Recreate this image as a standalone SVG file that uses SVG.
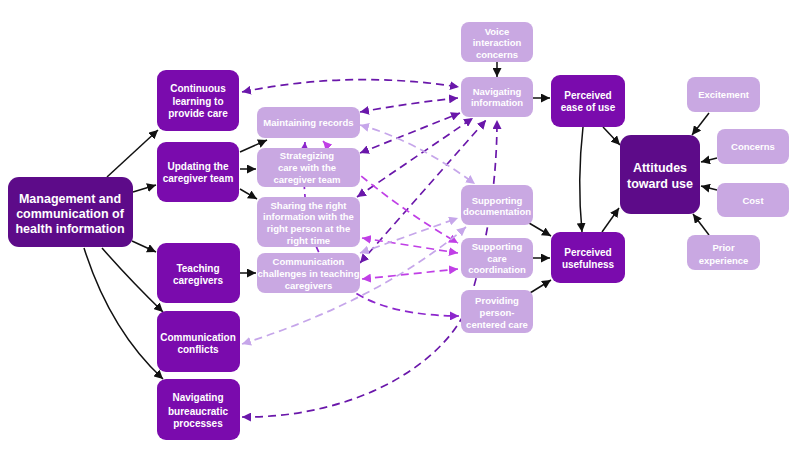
<svg xmlns="http://www.w3.org/2000/svg" width="797" height="461" viewBox="0 0 797 461">
<defs>
<style>
text{font-family:"Liberation Sans",Arial,sans-serif;fill:#fff;text-anchor:middle;font-weight:bold}
.dark rect{fill:#5d0b89}
.mid rect{fill:#7a0bad}
.light rect{fill:#c9a8e2}
.big{font-size:12.5px}
.m{font-size:10px}
.l{font-size:9.5px}
.solid{fill:none;stroke:#111;stroke-width:1.5;marker-end:url(#ab)}
.d{fill:none;stroke-width:1.7;stroke-dasharray:8 5}
.dp{stroke:#6a17aa;marker-start:url(#ap);marker-end:url(#ap)}
.mp{stroke:#8c26cc;marker-start:url(#am2);marker-end:url(#am2)}
.mg{stroke:#c03fe6;marker-start:url(#ag);marker-end:url(#ag)}
.lv{stroke:#c6a6ea;marker-start:url(#al);marker-end:url(#al)}
</style>
<marker id="ab" viewBox="0 0 10 10" refX="10" refY="5" markerWidth="9" markerHeight="9" markerUnits="userSpaceOnUse" orient="auto-start-reverse"><path d="M0,0 L10,5 L0,10 z" fill="#111"/></marker>
<marker id="ap" viewBox="0 0 10 10" refX="10" refY="5" markerWidth="9" markerHeight="9" markerUnits="userSpaceOnUse" orient="auto-start-reverse"><path d="M0,0 L10,5 L0,10 z" fill="#6a17aa"/></marker>
<marker id="am2" viewBox="0 0 10 10" refX="10" refY="5" markerWidth="9" markerHeight="9" markerUnits="userSpaceOnUse" orient="auto-start-reverse"><path d="M0,0 L10,5 L0,10 z" fill="#8c26cc"/></marker>
<marker id="ag" viewBox="0 0 10 10" refX="10" refY="5" markerWidth="9" markerHeight="9" markerUnits="userSpaceOnUse" orient="auto-start-reverse"><path d="M0,0 L10,5 L0,10 z" fill="#c03fe6"/></marker>
<marker id="al" viewBox="0 0 10 10" refX="10" refY="5" markerWidth="9" markerHeight="9" markerUnits="userSpaceOnUse" orient="auto-start-reverse"><path d="M0,0 L10,5 L0,10 z" fill="#c6a6ea"/></marker>
</defs>
<rect width="797" height="461" fill="#fff"/>
<g id="connectors">
<path class="solid" d="M107,177 L158,130"/>
<path class="solid" d="M133,192 L156,185"/>
<path class="solid" d="M132,241 L156,252"/>
<path class="solid" d="M102,248 Q130,280 163,312"/>
<path class="solid" d="M84,248 Q110,330 163,379"/>
<path class="solid" d="M240,152 L267,140"/>
<path class="solid" d="M240,169 L256,169"/>
<path class="solid" d="M240,189 L257,199"/>
<path class="solid" d="M240,273 L256,273"/>
<path class="solid" d="M497,62 L497,77"/>
<path class="solid" d="M533,98 L550,98"/>
<path class="solid" d="M603,127 L620,145"/>
<path class="solid" d="M583,127 Q577,180 582,232"/>
<path class="solid" d="M602,232 L619,208"/>
<path class="solid" d="M529,223 L551,236"/>
<path class="solid" d="M533,258 L550,258"/>
<path class="solid" d="M530,293 L551,280"/>
<path class="solid" d="M709,113 L692,135"/>
<path class="solid" d="M717,158 L701,162"/>
<path class="solid" d="M717,190 L701,186"/>
<path class="solid" d="M709,235 L693,214"/>
<path class="d dp" d="M242,92 Q350,70 459,87"/>
<path class="d dp" d="M360,112 Q410,103 458,98"/>
<path class="d dp" d="M360,153 L460,113"/>
<path class="d dp" d="M357,197 L473,118"/>
<path class="d dp" d="M360,263 L486,120"/>
<path class="d dp" d="M242,417 C360,418 450,360 470,300 C485,250 497,190 497,120"/>
<path class="d mp" d="M305,142 C298,250 325,315 459,316"/>
<path class="d mg" d="M323,141 C345,165 400,210 458,243"/>
<path class="d mg" d="M362,238 L458,253"/>
<path class="d mg" d="M362,279 L458,269"/>
<path class="d lv" d="M360,125 Q415,140 475,184"/>
<path class="d lv" d="M360,253 L458,218"/>
<path class="d lv" d="M242,344 Q380,300 466,227"/>
</g>
<g id="n-main" class="dark"><rect x="8" y="177" width="125" height="70" rx="11"/><text class="big" x="70" y="203">Management and</text><text class="big" x="70" y="218">communication of</text><text class="big" x="70" y="233">health information</text></g>
<g id="n-continuous" class="mid"><rect x="157" y="70" width="82" height="61" rx="9"/><text class="m" x="198" y="92">Continuous</text><text class="m" x="198" y="105">learning to</text><text class="m" x="198" y="117">provide care</text></g>
<g id="n-updating" class="mid"><rect x="157" y="142" width="82" height="60" rx="9"/><text class="m" x="198" y="170">Updating the</text><text class="m" x="198" y="182">caregiver team</text></g>
<g id="n-teaching" class="mid"><rect x="157" y="243" width="83" height="60" rx="9"/><text class="m" x="198" y="271.5">Teaching</text><text class="m" x="198" y="284">caregivers</text></g>
<g id="n-conflicts" class="mid"><rect x="157" y="311" width="83" height="61" rx="9"/><text class="m" x="198" y="340.5">Communication</text><text class="m" x="198" y="353">conflicts</text></g>
<g id="n-bureaucratic" class="mid"><rect x="157" y="379" width="83" height="61" rx="9"/><text class="m" x="198" y="401">Navigating</text><text class="m" x="198" y="414.5">bureaucratic</text><text class="m" x="198" y="426.5">processes</text></g>
<g id="n-maintaining" class="light"><rect x="257" y="107" width="103" height="31" rx="8"/><text class="l" x="308.5" y="126">Maintaining records</text></g>
<g id="n-strategizing" class="light"><rect x="257" y="148" width="103" height="39" rx="8"/><text class="l" x="307" y="159">Strategizing</text><text class="l" x="307" y="171">care with the</text><text class="l" x="307" y="183">caregiver team</text></g>
<g id="n-sharing" class="light"><rect x="257" y="197" width="103" height="50" rx="8"/><text class="l" x="308.5" y="208.5">Sharing the right</text><text class="l" x="308.5" y="220">information with the</text><text class="l" x="308.5" y="232">right person at the</text><text class="l" x="308.5" y="244">right time</text></g>
<g id="n-challenges" class="light"><rect x="257" y="253" width="103" height="40" rx="8"/><text class="l" x="308.5" y="265">Communication</text><text class="l" x="308.5" y="277">challenges in teaching</text><text class="l" x="308.5" y="289">caregivers</text></g>
<g id="n-voice" class="light"><rect x="461" y="22" width="72" height="40" rx="8"/><text class="l" x="497" y="34.5">Voice</text><text class="l" x="497" y="46">interaction</text><text class="l" x="497" y="57.5">concerns</text></g>
<g id="n-navinfo" class="light"><rect x="461" y="77" width="72" height="40" rx="8"/><text class="l" x="497" y="94.5">Navigating</text><text class="l" x="497" y="106">information</text></g>
<g id="n-documentation" class="light"><rect x="461" y="185" width="72" height="40" rx="8"/><text class="l" x="497" y="203.5">Supporting</text><text class="l" x="497" y="215">documentation</text></g>
<g id="n-coordination" class="light"><rect x="461" y="238" width="72" height="40" rx="8"/><text class="l" x="497" y="250">Supporting</text><text class="l" x="497" y="262">care</text><text class="l" x="497" y="273">coordination</text></g>
<g id="n-personcentered" class="light"><rect x="461" y="290" width="72" height="43" rx="8"/><text class="l" x="497" y="303.5">Providing</text><text class="l" x="497" y="316">person-</text><text class="l" x="497" y="327.5">centered care</text></g>
<g id="n-ease" class="mid"><rect x="551" y="75" width="74" height="52" rx="9"/><text class="m" x="588" y="98.5">Perceived</text><text class="m" x="588" y="111">ease of use</text></g>
<g id="n-usefulness" class="mid"><rect x="551" y="232" width="74" height="51" rx="9"/><text class="m" x="588" y="255.5">Perceived</text><text class="m" x="588" y="268">usefulness</text></g>
<g id="n-attitudes" class="dark"><rect x="620" y="135" width="80" height="79" rx="11"/><text class="big" x="660" y="172">Attitudes</text><text class="big" x="660" y="188">toward use</text></g>
<g id="n-excitement" class="light"><rect x="687" y="77" width="73" height="35" rx="8"/><text class="l" x="723.5" y="98">Excitement</text></g>
<g id="n-concerns" class="light"><rect x="717" y="129" width="72" height="35" rx="8"/><text class="l" x="753" y="150">Concerns</text></g>
<g id="n-cost" class="light"><rect x="717" y="183" width="72" height="34" rx="8"/><text class="l" x="753" y="203.5">Cost</text></g>
<g id="n-prior" class="light"><rect x="687" y="235" width="73" height="35" rx="8"/><text class="l" x="723.5" y="251">Prior</text><text class="l" x="723.5" y="263.5">experience</text></g>
</svg>
